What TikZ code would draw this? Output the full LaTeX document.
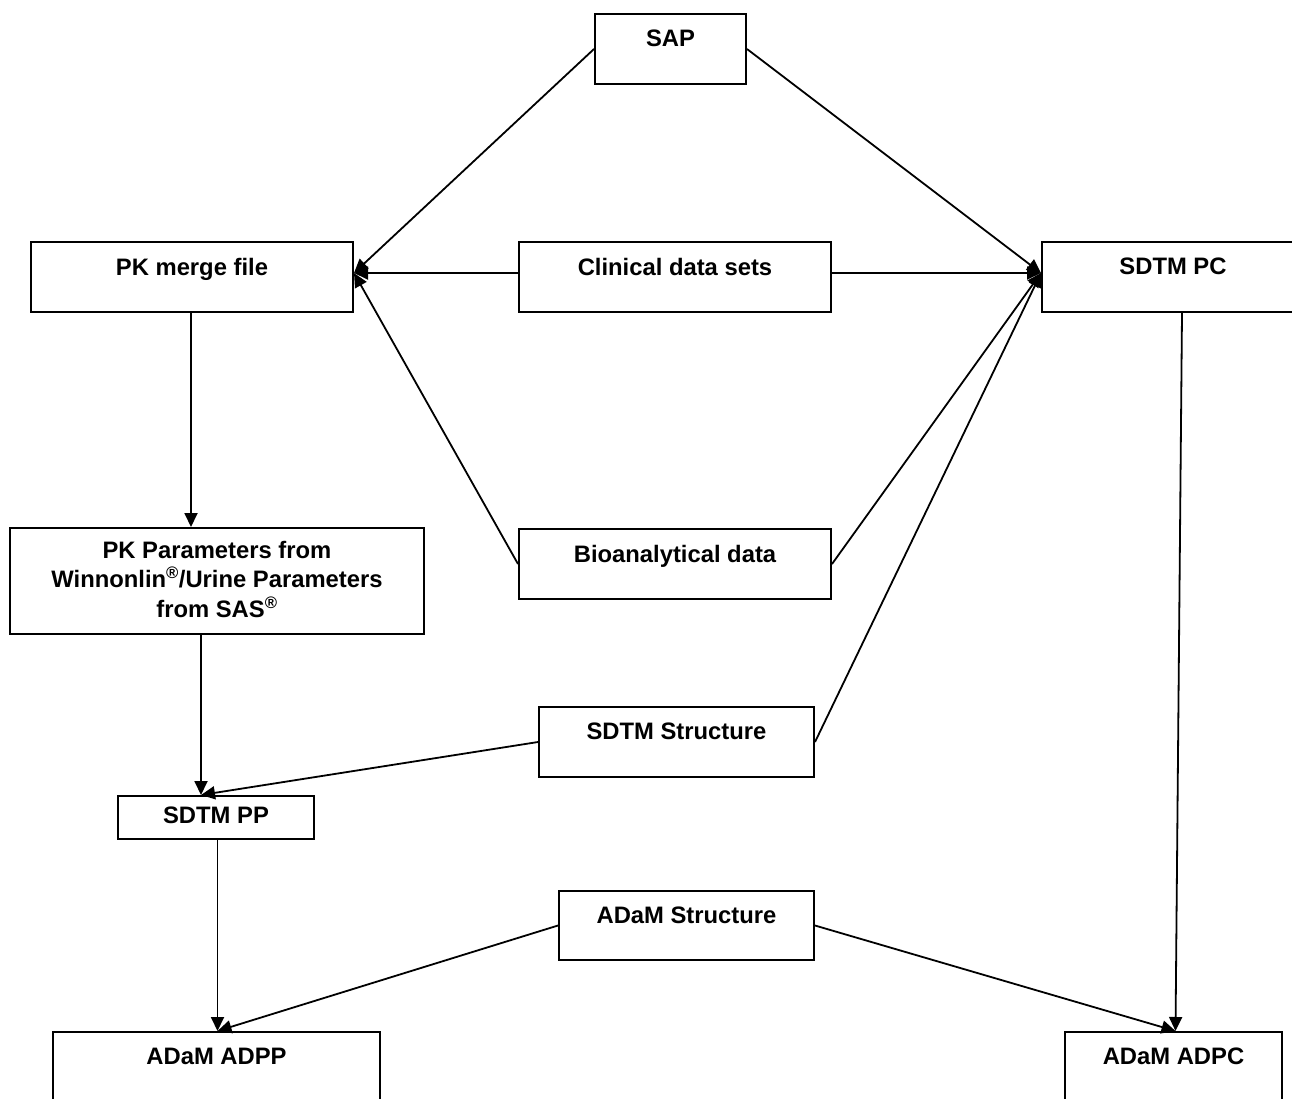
\documentclass[tikz,border=0pt]{standalone}
\usepackage{fontspec}
\setmainfont{Liberation Sans}
\usetikzlibrary{arrows.meta,positioning}
\tikzset{
  box/.style={draw, line width=2pt, rectangle, anchor=north west, inner sep=0pt},
  lbl/.style={anchor=north, inner sep=0pt, align=center, font=\fontsize{23.8}{29.5}\selectfont\bfseries},
  conn/.style={line width=1.8pt, -{Triangle[length=14pt,width=13pt]}}
}
\newcommand{\bx}[7]{% name, x, y, w, h, labelshift, text
  \node[box, minimum width=#4pt, minimum height=#5pt,
        label={[lbl, yshift=-#6pt]north:#7}] (#1) at (#2,#3) {};}
\begin{document}
\begin{tikzpicture}[x=1pt,y=-1pt]
\useasboundingbox (0,0) rectangle (1292,1098);
\bx{sap}{594}{13}{151}{70}{17}{SAP}
\bx{pkm}{30}{241}{322}{70}{17}{PK merge file}
\bx{clin}{518}{241}{312}{70}{17}{Clinical data sets}
\bx{sdtmpc}{1041}{241}{262}{70}{17}{SDTM PC}
\bx{pkpar}{9}{527}{414}{106}{14}{PK Parameters from\\Winnonlin\textsuperscript{®}/Urine Parameters\\from SAS\textsuperscript{®}}
\bx{bio}{518}{528}{312}{70}{17}{Bioanalytical data}
\bx{sdtms}{538}{706}{275}{70}{17}{SDTM Structure}
\bx{sdtmpp}{117}{795}{196}{43}{12}{SDTM PP}
\bx{adams}{558}{890}{255}{69}{17}{ADaM Structure}
\bx{adpp}{52}{1031}{327}{70}{17}{ADaM ADPP}
\bx{adpc}{1064}{1031}{217}{70}{17}{ADaM ADPC}
% connection points
\coordinate (pkin) at ([yshift=4pt]pkm.east);
\coordinate (pcin) at ([yshift=4pt]sdtmpc.west);
\coordinate (ppin) at ([xshift=-15pt]sdtmpp.north);
\coordinate (pcout) at ([xshift=9pt]sdtmpc.south);
\coordinate (adpcin) at ([xshift=2pt]adpc.north);
\coordinate (adppin) at ([xshift=1pt]adpp.north);
% connectors
\draw[conn] (sap.west) -- (pkin);
\draw[conn] (sap.east) -- (pcin);
\draw[conn] ([yshift=4pt]clin.west) -- (pkin);
\draw[conn] ([yshift=4pt]clin.east) -- (pcin);
\draw[conn] (bio.west) -- (pkin);
\draw[conn] (bio.east) -- (pcin);
\draw[conn] (sdtms.east) -- (pcin);
\draw[conn] ([xshift=-1pt]pkm.south) -- ([xshift=-1pt]pkm.south |- pkpar.north);
\draw[conn] (ppin |- pkpar.south) -- (ppin);
\draw[conn] (sdtms.west) -- (ppin);
\draw[conn] (pcout) -- (adpcin);
\draw[conn] (adppin |- sdtmpp.south) -- (adppin);
\draw[conn] (adams.west) -- (adppin);
\draw[conn] (adams.east) -- (adpcin);
\end{tikzpicture}
\end{document}
